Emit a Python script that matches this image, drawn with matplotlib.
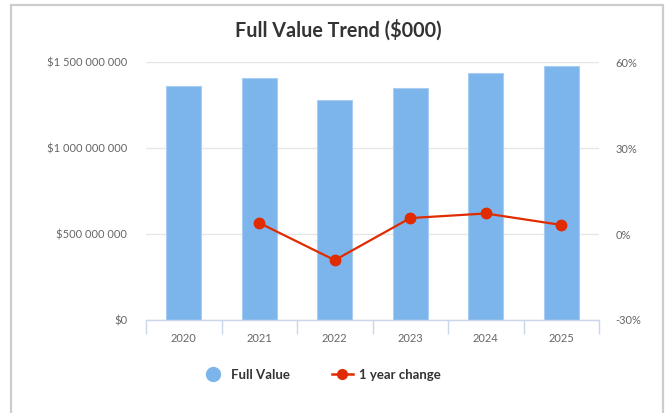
import matplotlib
matplotlib.use("Agg")
import matplotlib.pyplot as plt
from matplotlib.lines import Line2D
from matplotlib.patches import Rectangle
from matplotlib.ticker import FuncFormatter, FixedLocator

plt.rcParams['font.family'] = ['Lato', 'DejaVu Sans']

years = ["2020", "2021", "2022", "2023", "2024", "2025"]
full_value = [1362e6, 1411e6, 1279e6, 1349e6, 1440e6, 1481e6]
change_years = ["2021", "2022", "2023", "2024", "2025"]
change_pct = [3.9, -9.1, 5.6, 7.2, 3.2]

W, H = 665, 413
fig = plt.figure(figsize=(W / 100, H / 100), dpi=100)

# outer frame
fig.patches.append(Rectangle((11 / W, -0.05), (663 - 11) / W, 1.05 - 5 / H,
                             transform=fig.transFigure, fill=False,
                             edgecolor='#cccccc', linewidth=1.6, zorder=0))

left, right, bottom, top = 146, 599, 320, 62.3
ax = fig.add_axes([left / W, 1 - bottom / H, (right - left) / W, (bottom - top) / H])
ax2 = ax.twinx()

x = list(range(len(years)))
ax.bar(x, full_value, width=0.47, color='#7cb5ec', edgecolor='#a9cdf2',
       linewidth=0.8, zorder=2)
ax.set_xlim(-0.5, len(years) - 0.5)
ax.set_ylim(0, 1.5e9)
ax.set_yticks([0, 5e8, 1e9, 1.5e9])

def money(v, pos):
    s = f"{int(round(v)):,}".replace(",", " ")
    return f"${s}"

ax.yaxis.set_major_formatter(FuncFormatter(money))
ax.grid(axis='y', color='#e6e6e6', linewidth=1, zorder=0)
ax.set_axisbelow(True)

# x axis: labels centred, ticks at boundaries
ax.set_xticks(x)
ax.set_xticklabels(years)
ax.xaxis.set_minor_locator(FixedLocator([i - 0.5 for i in range(len(years) + 1)]))
ax.tick_params(axis='x', which='major', length=0, pad=9, labelsize=8, labelcolor='#666666')
ax.tick_params(axis='x', which='minor', length=10, width=1, color='#ccd6eb')
ax.tick_params(axis='y', length=0, pad=13.5, labelsize=8, labelcolor='#666666')

for sp in ['top', 'right', 'left']:
    ax.spines[sp].set_visible(False)
ax.spines['bottom'].set_color('#ccd6eb')
ax.spines['bottom'].set_linewidth(1)

# right axis
cx = [years.index(y) for y in change_years]
ax2.plot(cx, change_pct, color='#e02c00', linewidth=1.6, marker='o',
         markersize=7.5, zorder=3)
ax2.set_ylim(-30, 60)
ax2.set_yticks([-30, 0, 30, 60])
ax2.yaxis.set_major_formatter(FuncFormatter(lambda v, p: f"{int(v)}%"))
ax2.tick_params(axis='y', length=0, pad=12, labelsize=8, labelcolor='#666666')
for sp in ax2.spines.values():
    sp.set_visible(False)

fig.text(338 / W, 1 - 30 / H, "Full Value Trend ($000)", ha='center', va='center',
         fontsize=14.2, fontweight='bold', color='#333333')

handles = [
    Line2D([], [], linestyle='none', marker='o', markersize=10, color='#7cb5ec'),
    Line2D([], [], color='#e02c00', linewidth=1.8, marker='o', markersize=7),
]
leg = fig.legend(handles, ["Full Value", "1 year change"], loc='center',
                 bbox_to_anchor=(322 / W, 1 - 375 / H), ncol=2, frameon=False,
                 prop={'weight': 'bold', 'size': 9.5}, handlelength=1.6,
                 columnspacing=3.2, handletextpad=0.5)
for t in leg.get_texts():
    t.set_color('#333333')

fig.savefig("out.png", dpi=100)
